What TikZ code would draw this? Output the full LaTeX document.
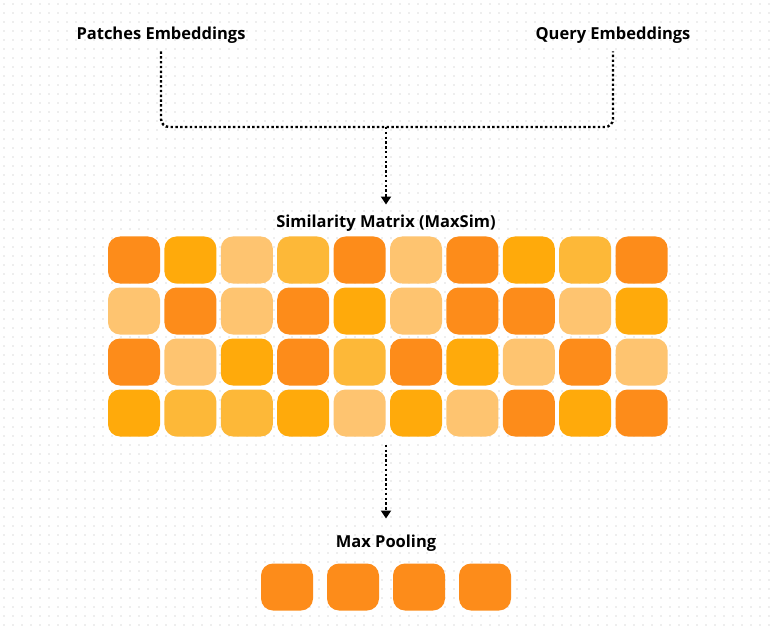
\documentclass[tikz,border=0pt]{standalone}
\usepackage{fontspec}
\setmainfont{Open Sans}
\usetikzlibrary{arrows.meta,positioning}
\definecolor{deep}{HTML}{FD8C1A}
\definecolor{amber}{HTML}{FFAA0B}
\definecolor{honey}{HTML}{FDB838}
\definecolor{pale}{HTML}{FEC470}
\definecolor{griddot}{HTML}{DEDEDE}
\tikzstyle{cell}=[
        rounded corners = 12pt,
        minimum width = 52pt,
        minimum height = 47pt,
        inner sep = 0pt
    ]
\tikzstyle{title}=[font=\bfseries\fontsize{16.5}{19}\selectfont, inner sep=2pt]
\tikzstyle{flow}=[line width=2.4pt, dash pattern=on 2.4pt off 2.4pt]

\begin{document}
\begin{tikzpicture}[x=1pt, y=-1pt, >={Triangle[width=10pt,length=8pt]}]
        % background with dot grid
        \useasboundingbox[fill=white] (0,0) rectangle (771,631);
        \foreach \i in {4,13,...,769}
            \foreach \j in {4,13,...,628}
                \fill[griddot] (\i,\j) circle (0.8);

        \node[title] (pe) at (161,35) {Patches Embeddings};
        \node[title] (qe) at (613,35) {Query Embeddings};
        \node[title] (sim) at (386,223) {Similarity Matrix (MaxSim)};
        \node[title] (mp) at (386,543) {Max Pooling};
        \coordinate (bend) at (386,127);

        % similarity matrix
        \foreach \r/\row in {1/{deep,amber,pale,honey,deep,pale,deep,amber,honey,deep},
                             2/{pale,deep,pale,deep,amber,pale,deep,deep,pale,amber},
                             3/{deep,pale,amber,deep,honey,deep,amber,pale,deep,pale},
                             4/{amber,honey,honey,amber,pale,amber,pale,deep,amber,deep}}
            \foreach \col [count=\c] in \row
                \node[cell, fill=\col] (m-\r-\c) at ({134+(\c-1)*56.4},{260+(\r-1)*51}) {};

        % max pooling
        \foreach \c in {1,...,4}
            \node[cell, fill=deep] (p-\c) at ({287+(\c-1)*66},587) {};

        \draw[flow, rounded corners=8pt] ([yshift=-6pt]pe.south) |- (bend) -| ([yshift=-6pt]qe.south);
        \draw[flow, ->, shorten >=8pt] (bend) -- (sim.north);
        \draw[flow, ->, shorten <=8pt, shorten >=14pt] (sim |- m-4-1.south) -- (mp.north);
    \end{tikzpicture}
\end{document}
